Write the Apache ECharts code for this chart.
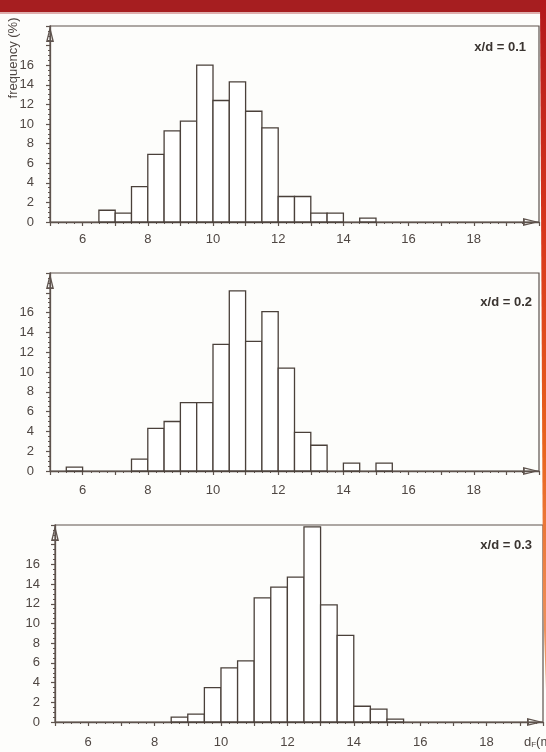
<!DOCTYPE html>
<html><head><meta charset="utf-8">
<script src="https://cdn.jsdelivr.net/npm/echarts@6/dist/echarts.min.js"></script>
<style>html,body{margin:0;padding:0;background:#fdfdfb}#c{width:546px;height:752px}</style>
</head><body><div id="c"></div>
<script>
// ---- data ----
const xTickLabels = [6, 8, 10, 12, 14, 16, 18];
const yTickLabels = [0, 2, 4, 6, 8, 10, 12, 14, 16];
const panelLabels = ['x/d = 0.1', 'x/d = 0.2', 'x/d = 0.3'];
const binWidth = 0.5;

const binStart01 = [6.5, 7, 7.5, 8, 8.5, 9, 9.5, 10, 10.5, 11, 11.5, 12, 12.5, 13, 13.5, 14.5];
const freq01     = [1.2, 0.9, 3.6, 6.9, 9.3, 10.3, 16.0, 12.4, 14.3, 11.3, 9.6, 2.6, 2.6, 0.9, 0.9, 0.4];

const binStart02 = [5.5, 7.5, 8, 8.5, 9, 9.5, 10, 10.5, 11, 11.5, 12, 12.5, 13, 14, 15];
const freq02     = [0.4, 1.2, 4.3, 5.0, 6.9, 6.9, 12.8, 18.2, 13.1, 16.1, 10.4, 3.9, 2.6, 0.8, 0.8];

const binStart03 = [8.5, 9, 9.5, 10, 10.5, 11, 11.5, 12, 12.5, 13, 13.5, 14, 14.5, 15];
const freq03     = [0.5, 0.8, 3.5, 5.5, 6.2, 12.6, 13.7, 14.7, 19.8, 11.9, 8.8, 1.6, 1.3, 0.3];

// ---- layout / style ----
const panels = [
  {starts: binStart01, freq: freq01, grid: {left: 50, right: 7, top: 26, bottom: 530}, xMax: 20, xMargin: 11, yMargin: 16, label: [526, 47]},
  {starts: binStart02, freq: freq02, grid: {left: 50, right: 7, top: 273, bottom: 281}, xMax: 20, xMargin: 13, yMargin: 16, label: [532, 302]},
  {starts: binStart03, freq: freq03, grid: {left: 55, right: 3, top: 525, bottom: 30}, xMax: 19.7, xMargin: 14, yMargin: 15, label: [532, 545]}
];
const lineColor = '#5e534d';
const barColor = '#4a403a';
const textColor = '#4f4743';
const font = 'Liberation Sans, Arial, sans-serif';
const arrow = 'path://M5 0 L10 20 L0 20 Z M5 5.5 L2.3 17.8 L7.7 17.8 Z';

function renderBar(params, api) {
  const x0 = api.value(0), h = api.value(1);
  const p0 = api.coord([x0, h]);
  const p1 = api.coord([x0 + binWidth, 0]);
  return {
    type: 'rect',
    shape: {x: p0[0], y: p0[1], width: p1[0] - p0[0], height: p1[1] - p0[1]},
    style: {fill: '#ffffff', stroke: barColor, lineWidth: 1.3}
  };
}

const option = {
  backgroundColor: '#fdfdfb',
  animation: false,
  grid: panels.map(p => Object.assign({show: true, borderColor: lineColor, borderWidth: 1.2, backgroundColor: 'transparent'}, p.grid)),
  xAxis: panels.map((p, i) => ({
    type: 'value', gridIndex: i, min: 5, max: p.xMax, interval: 1,
    splitLine: {show: false},
    axisLine: {show: true, lineStyle: {color: lineColor, width: 1.3}, symbol: ['none', arrow], symbolSize: [8, 16], symbolOffset: [0, -8]},
    axisTick: {show: true, length: 4, lineStyle: {color: lineColor, width: 1.2}},
    minorTick: {show: true, splitNumber: 4, length: 2, lineStyle: {color: lineColor}},
    axisLabel: {margin: p.xMargin, color: textColor, fontSize: 13, fontFamily: font,
      formatter: v => xTickLabels.indexOf(v) >= 0 ? String(v) : ''}
  })),
  yAxis: panels.map((p, i) => ({
    type: 'value', gridIndex: i, min: 0, max: 20, interval: 2,
    splitLine: {show: false},
    axisLine: {show: true, lineStyle: {color: lineColor, width: 1.3}, symbol: ['none', arrow], symbolSize: [8, 16], symbolOffset: [0, -8]},
    axisTick: {show: true, length: 4, lineStyle: {color: lineColor, width: 1.2}},
    minorTick: {show: true, splitNumber: 4, length: 2, lineStyle: {color: lineColor}},
    axisLabel: {margin: p.yMargin, color: textColor, fontSize: 13, fontFamily: font,
      formatter: v => yTickLabels.indexOf(v) >= 0 ? String(v) : ''}
  })),
  series: panels.map((p, i) => ({
    type: 'custom', xAxisIndex: i, yAxisIndex: i,
    renderItem: renderBar,
    data: p.starts.map((s, k) => [s, p.freq[k]])
  })),
  graphic: [
    {type: 'rect', shape: {x: 0, y: 0, width: 546, height: 12}, style: {fill: '#a61e20'}, z: 100},
    {type: 'rect', shape: {x: 0, y: 12, width: 546, height: 2}, style: {fill: 'rgba(166,30,32,0.35)'}, z: 100},
    {type: 'polygon', shape: {points: [[540, 0], [546, 0], [546, 690], [543, 600]]},
      style: {fill: new echarts.graphic.LinearGradient(0, 0, 0, 1, [
        {offset: 0, color: '#b3181c'}, {offset: 0.35, color: '#d8381c'}, {offset: 0.65, color: '#e8641e'}, {offset: 1, color: '#f0a070'}])}, z: 100},
    {type: 'text', x: 13, y: 58, rotation: Math.PI / 2,
      style: {text: 'frequency (%)', fill: textColor, font: '13px ' + font, textAlign: 'center', textVerticalAlign: 'middle'}},
    ...panels.map((p, i) => ({type: 'text', x: p.label[0], y: p.label[1],
      style: {text: panelLabels[i], fill: '#3a3430', font: 'bold 13px ' + font, textAlign: 'right', textVerticalAlign: 'middle'}})),
    {type: 'text', x: 524, y: 742,
      style: {text: 'd{s|F}(mm)', fill: textColor, font: '13px ' + font, textAlign: 'left', textVerticalAlign: 'middle',
        rich: {s: {fontSize: 8, fill: textColor, fontFamily: font, verticalAlign: 'bottom', padding: [6, 0, 0, 0]}}}}
  ]
};
echarts.init(document.getElementById('c')).setOption(option);
</script>
</body></html>
